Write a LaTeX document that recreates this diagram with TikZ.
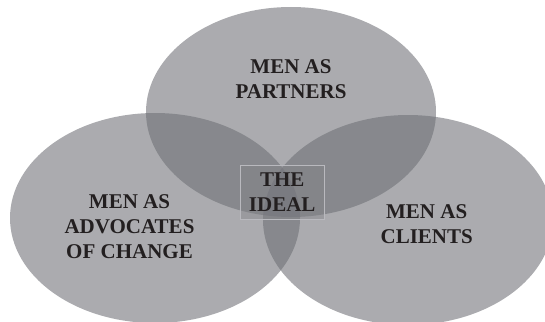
\documentclass[tikz,border=0pt]{standalone}
\usepackage{fontspec}
\setmainfont{Liberation Serif}
\usetikzlibrary{shapes.geometric}
\definecolor{circfill}{RGB}{109,110,116}
\definecolor{boxfill}{RGB}{128,128,133}
\definecolor{boxline}{RGB}{185,185,190}
\definecolor{inktext}{RGB}{35,31,32}
\tikzset{
  venn/.style={ellipse, draw=none, fill=circfill, fill opacity=0.576, inner sep=0pt, outer sep=0pt,
    minimum width=290pt, minimum height=210pt},
  label/.style={align=center, text=inktext, inner sep=0pt, font=\fontsize{21}{25}\selectfont\bfseries},
  idealbox/.style={draw=boxline, line width=0.8pt, fill=boxfill, fill opacity=0.4, text opacity=1,
    minimum width=84.5pt, minimum height=54pt, inner sep=0pt, align=center, text=inktext,
    font=\fontsize{21}{25}\selectfont\bfseries}
}
\begin{document}
\begin{tikzpicture}[x=1pt,y=-1pt]
\useasboundingbox (0,0) rectangle (545,321);
\node[venn] (top) at (291,112) {};
\node[venn] (left) at (155,218) {};
\node[venn] (right) at (408,220) {};
\node[label] (tl) at (291,79.5) {MEN AS\\PARTNERS};
\node[label] (ll) at (129.5,226.5) {MEN AS\\ADVOCATES\\OF CHANGE};
\node[label] (rl) at (426.7,223.7) {MEN AS\\CLIENTS};
\node[idealbox] (ideal) at (282.2,192.5) {THE\\IDEAL};
\end{tikzpicture}
\end{document}
